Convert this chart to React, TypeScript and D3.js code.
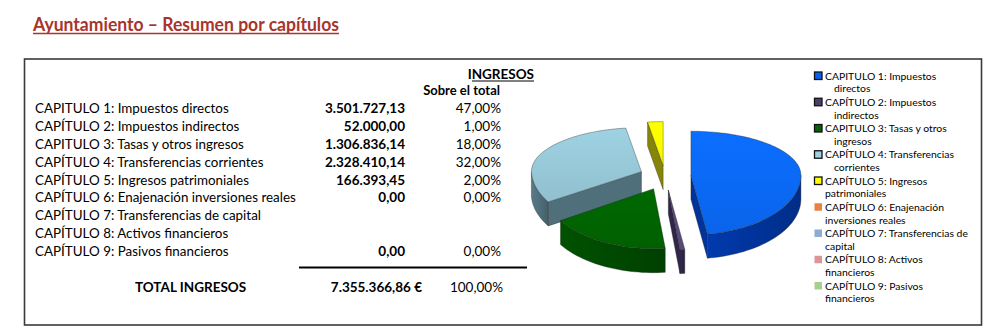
import React from "react";
import * as d3 from "d3";

const title = "Ayuntamiento – Resumen por capítulos";
const tableHeader = "INGRESOS";
const subHeader = "Sobre el total";
const categories = [
  "CAPITULO 1: Impuestos directos",
  "CAPÍTULO 2: Impuestos indirectos",
  "CAPITULO 3: Tasas y otros ingresos",
  "CAPÍTULO 4: Transferencias corrientes",
  "CAPÍTULO 5: Ingresos patrimoniales",
  "CAPÍTULO 6: Enajenación inversiones reales",
  "CAPÍTULO 7: Transferencias de capital",
  "CAPÍTULO 8: Activos financieros",
  "CAPÍTULO 9: Pasivos financieros",
];
const values: (number | null)[] = [3501727.13, 52000.0, 1306836.14, 2328410.14, 166393.45, 0, null, null, 0];
const percents = ["47,00%", "1,00%", "18,00%", "32,00%", "2,00%", "0,00%", "", "", "0,00%"];
const totalLabel = "TOTAL INGRESOS";
const totalValue = 7355366.86;
const totalPercent = "100,00%";
const legendLines = [
  ["CAPITULO 1: Impuestos", "directos"],
  ["CAPÍTULO 2: Impuestos", "indirectos"],
  ["CAPITULO 3: Tasas y otros", "ingresos"],
  ["CAPÍTULO 4: Transferencias", "corrientes"],
  ["CAPÍTULO 5: Ingresos", "patrimoniales"],
  ["CAPÍTULO 6: Enajenación", "inversiones reales"],
  ["CAPÍTULO 7: Transferencias de", "capital"],
  ["CAPÍTULO 8: Activos", "financieros"],
  ["CAPÍTULO 9: Pasivos", "financieros"],
];
const topColors = ["#0a68f2", "#5a4c7e", "#006400", "#96c7d7", "#ffff00", "#f79646", "#95b3d7", "#d99694", "#b3d39a"];
const sideColors = ["#00349c", "#2f2648", "#004a00", "#4f6f7b", "#85850a", "#c0712f", "#7090b8", "#b07070", "#90b070"];
const legendColors = ["#0a5ef0", "#4b4068", "#0b5e0b", "#9fd0de", "#ffff00", "#e8823e", "#8eaad6", "#d99694", "#a9cf8f"];
const legendBorder = [true, true, true, true, true, false, false, false, false];

const locale = d3.formatLocale({ decimal: ",", thousands: ".", grouping: [3], currency: ["", " €"] });
const fmt = locale.format(",.2f");

const FONT = "Lato, 'Open Sans', sans-serif";

export default function App() {
  // table layout
  const rowY = d3.scaleLinear().domain([0, 8]).range([113, 256]);
  const labelX = 35;
  const valueX = 405;
  const pctX = 501;

  // pie geometry
  const cx = 665, cy = 176, R = 110, kB = 0.4, kF = 0.545, depth = 24, E = 26;
  const proj = (u: number, v: number, h: number): [number, number] => [cx + u, cy - (v > 0 ? v * kB : v * kF) + h];
  const pieVals = values.map((v) => v || 0);
  const arcs = d3.pie<number>().sort(null).startAngle(0).endAngle(2 * Math.PI)(pieVals);

  const slices = arcs
    .map((a, i) => ({ a, i }))
    .filter((s) => s.a.endAngle - s.a.startAngle > 1e-6)
    .map(({ a, i }) => {
      const m = (a.startAngle + a.endAngle) / 2;
      const ou = E * Math.sin(m), ov = E * Math.cos(m);
      const pt = (t: number, r: number, h: number) => proj(ou + r * Math.sin(t), ov + r * Math.cos(t), h);
      const n = Math.max(4, Math.ceil(((a.endAngle - a.startAngle) * 180) / Math.PI / 2));
      const ts = d3.range(n + 1).map((k) => a.startAngle + ((a.endAngle - a.startAngle) * k) / n);
      const line = d3.line();
      const top = line([pt(0, 0, 0), ...ts.map((t) => pt(t, R, 0))]) + "Z";
      const faces: { d: string; fill: string }[] = [];
      const a0 = a.startAngle, a1 = a.endAngle;
      if (Math.cos(a0 - Math.PI / 2) < -1e-3) {
        faces.push({ d: line([pt(0, 0, 0), pt(a0, R, 0), pt(a0, R, depth), pt(0, 0, depth)]) + "Z", fill: sideColors[i] });
      }
      if (Math.cos(a1 + Math.PI / 2) < -1e-3) {
        faces.push({ d: line([pt(0, 0, 0), pt(a1, R, 0), pt(a1, R, depth), pt(0, 0, depth)]) + "Z", fill: sideColors[i] });
      }
      const lo = Math.max(a0, Math.PI / 2), hi = Math.min(a1, (3 * Math.PI) / 2);
      if (hi > lo) {
        const k2 = Math.max(4, Math.ceil(((hi - lo) * 180) / Math.PI / 2));
        const ss = d3.range(k2 + 1).map((k) => lo + ((hi - lo) * k) / k2);
        const pts = [...ss.map((t) => pt(t, R, 0)), ...ss.slice().reverse().map((t) => pt(t, R, depth))];
        faces.push({ d: line(pts) + "Z", fill: `url(#side${i})` });
      }
      return { i, top, faces, order: Math.cos(m) };
    })
    .sort((p, q) => q.order - p.order);

  const legendX = 814;
  const legendY = d3.scaleLinear().domain([0, 8]).range([76, 286]);

  return (
    <svg width={1007} height={335} style={{ position: "absolute", left: 0, top: 0, background: "#fff" }} fontFamily={FONT}>
      <defs>
        {sideColors.map((c, i) => (
          <linearGradient key={i} id={`side${i}`} x1="0" x2="1" y1="0" y2="0">
            <stop offset="0" stopColor={d3.color(c)!.brighter(0.3).toString()} />
            <stop offset="1" stopColor={d3.color(c)!.darker(0.4).toString()} />
          </linearGradient>
        ))}
        {topColors.map((c, i) => (
          <linearGradient key={i} id={`top${i}`} x1="0" x2="0" y1="0" y2="1">
            <stop offset="0" stopColor={d3.color(c)!.brighter(0.15).toString()} />
            <stop offset="1" stopColor={d3.color(c)!.darker(0.1).toString()} />
          </linearGradient>
        ))}
      </defs>

      {/* Title */}
      <text x={33} y={31} fontSize={18.5} fontWeight="bold" fill="#a8342c" textLength={306} lengthAdjust="spacingAndGlyphs">
        {title}
      </text>
      <line x1={33} x2={339} y1={33.5} y2={33.5} stroke="#a8342c" strokeWidth={1.4} />

      {/* Frame */}
      <rect x={24.5} y={59} width={957} height={266} fill="none" stroke="#3a3a3a" strokeWidth={1.6} />

      {/* Table header */}
      <text x={534} y={79} fontSize={13.5} fontWeight="bold" textAnchor="end" fill="#000">{tableHeader}</text>
      <line x1={472} x2={534} y1={81} y2={81} stroke="#000" strokeWidth={1} />
      <text x={500} y={95} fontSize={13} fontWeight="bold" textAnchor="end" fill="#000">{subHeader}</text>

      {/* Rows */}
      {categories.map((c, i) => (
        <g key={i}>
          <text x={labelX} y={rowY(i)} fontSize={13.4} fill="#000">{c}</text>
          {values[i] !== null && (
            <text x={valueX} y={rowY(i)} fontSize={13.5} fontWeight="bold" textAnchor="end" fill="#000">
              {fmt(values[i] as number)}
            </text>
          )}
          {percents[i] && (
            <text x={pctX} y={rowY(i)} fontSize={13.5} textAnchor="end" fill="#000">{percents[i]}</text>
          )}
        </g>
      ))}
      <line x1={299} x2={527} y1={267.5} y2={267.5} stroke="#000" strokeWidth={2} />
      <text x={135} y={292} fontSize={13.5} fontWeight="bold" fill="#000">{totalLabel}</text>
      <text x={422} y={292} fontSize={13.5} fontWeight="bold" textAnchor="end" fill="#000">{fmt(totalValue) + " €"}</text>
      <text x={503} y={292} fontSize={13.5} textAnchor="end" fill="#000">{totalPercent}</text>

      {/* 3D pie */}
      <g stroke="#222" strokeWidth={0.5} strokeOpacity={0.7} strokeLinejoin="round">
        {slices.map((s) => (
          <g key={s.i}>
            {s.faces.map((f, k) => (
              <path key={k} d={f.d} fill={f.fill} />
            ))}
            <path d={s.top} fill={`url(#top${s.i})`} />
          </g>
        ))}
      </g>

      {/* Legend */}
      {legendLines.map((ls, i) => (
        <g key={i}>
          <rect
            x={legendX + 0.5}
            y={legendY(i) - 4}
            width={7.5}
            height={7.5}
            fill={legendColors[i]}
            stroke={legendBorder[i] ? "#111" : "none"}
            strokeWidth={legendBorder[i] ? 1.3 : 0}
          />
          <text x={825} y={legendY(i) + 3.6} fontSize={10.4} fill="#000">{ls[0]}</text>
          <text x={i < 4 ? 834 : 825} y={legendY(i) + 16.3} fontSize={10.4} fill="#000">{ls[1]}</text>
        </g>
      ))}
    </svg>
  );
}
